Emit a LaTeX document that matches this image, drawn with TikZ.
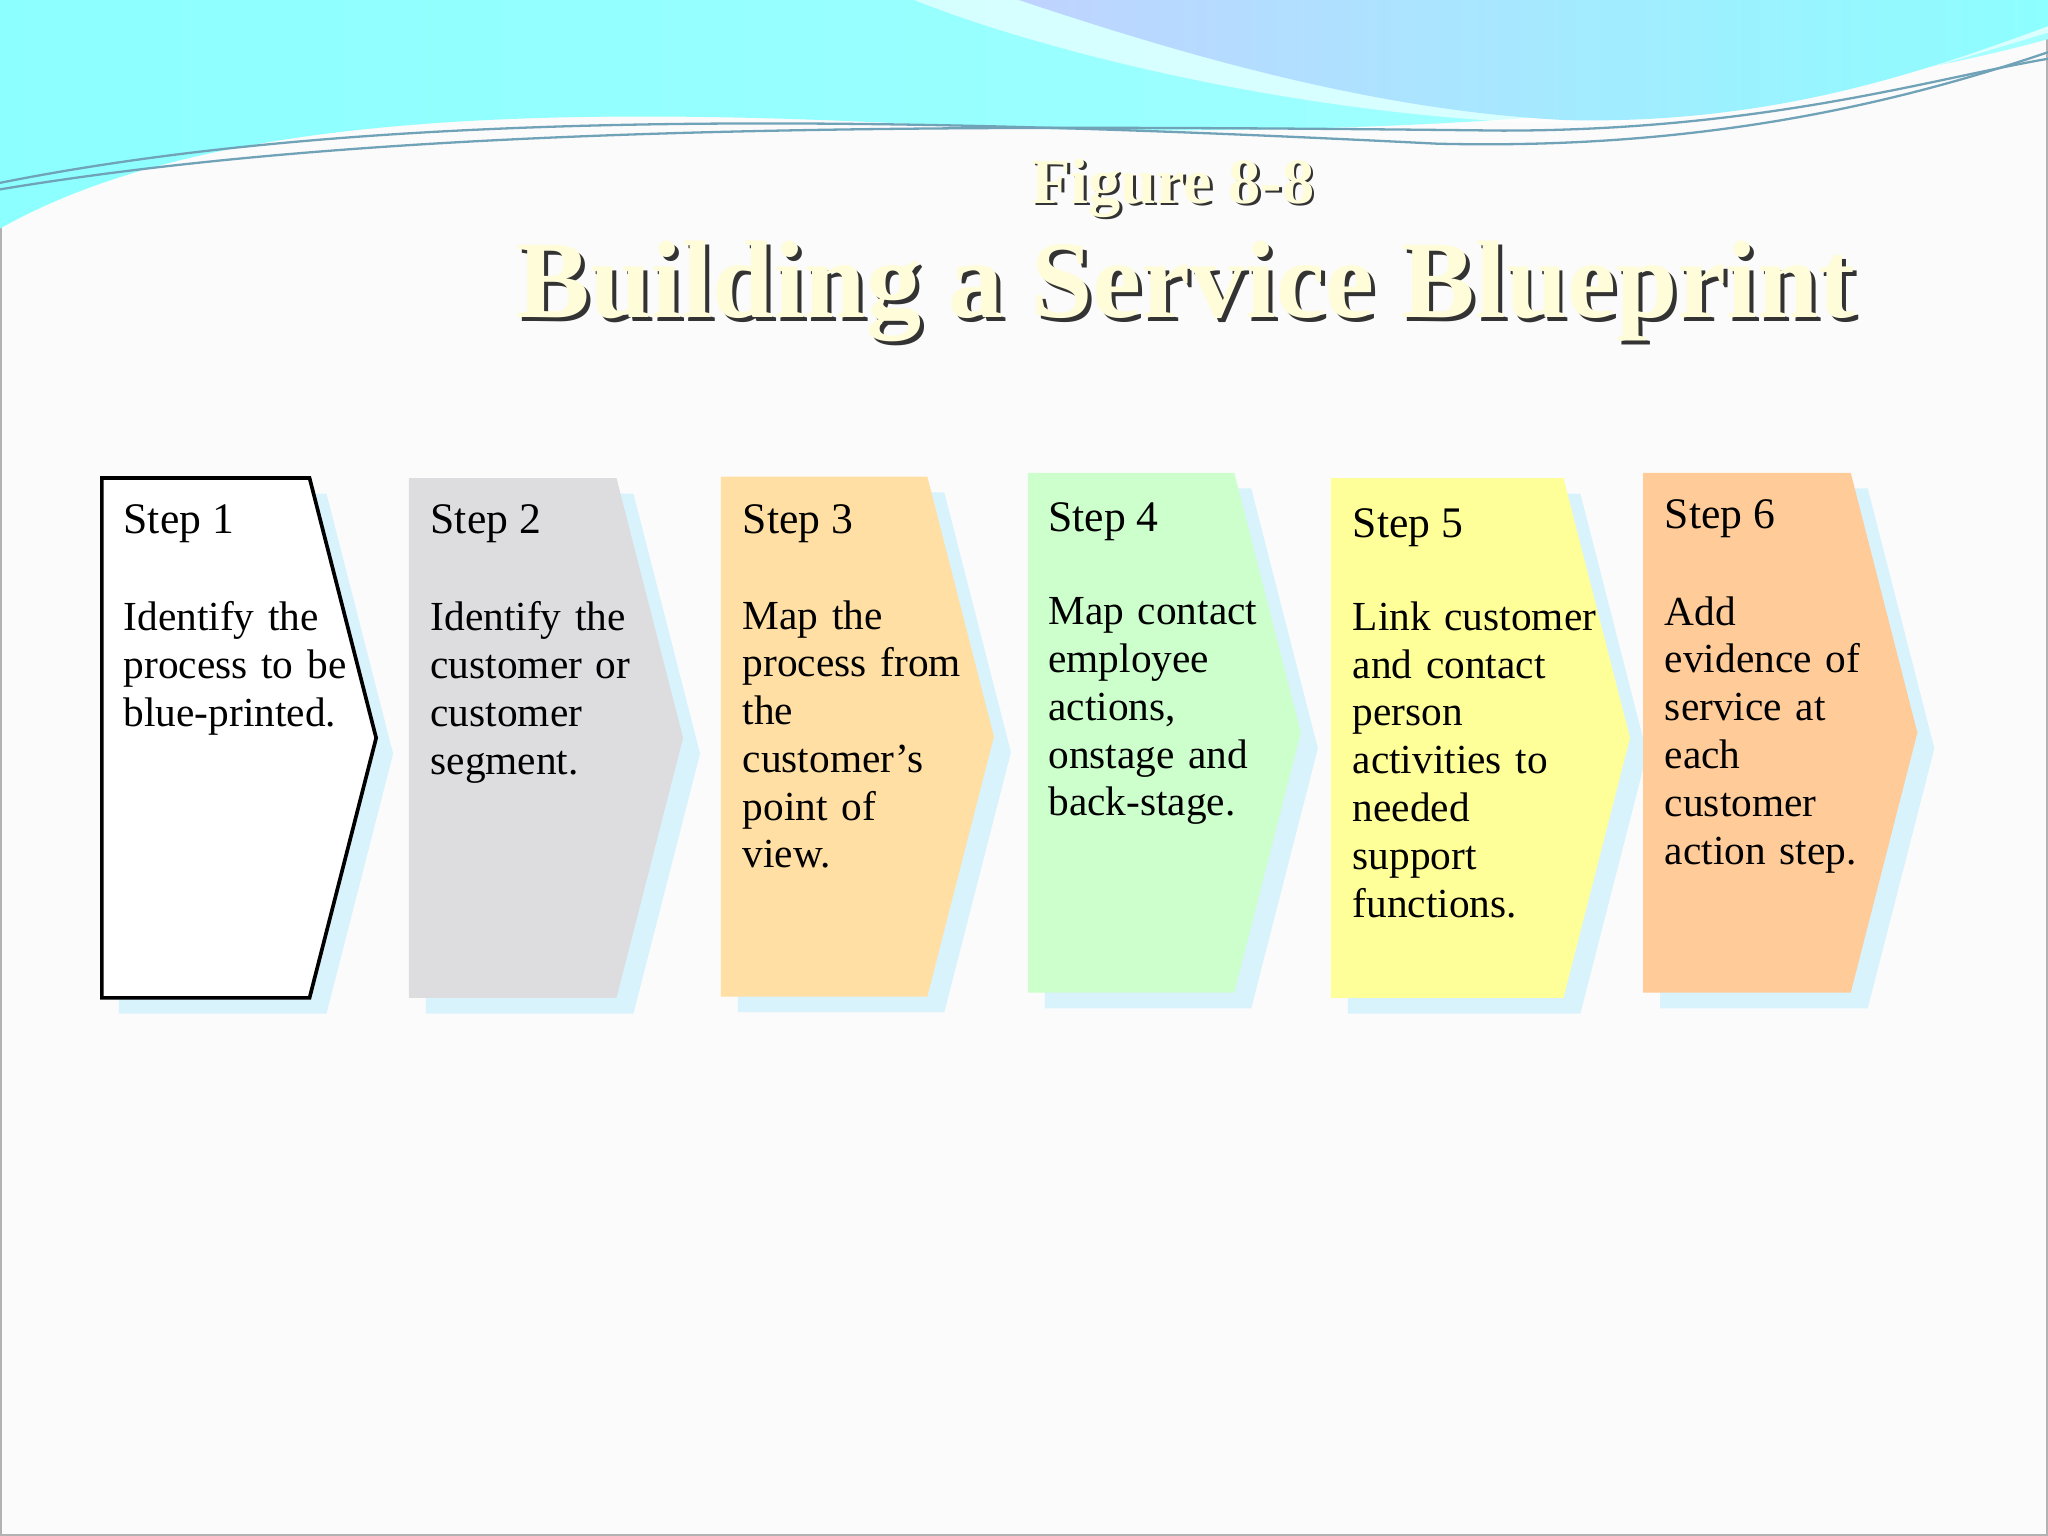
\documentclass[tikz,border=0pt]{standalone}
\usepackage{fontspec}
\setmainfont{Liberation Serif}
\definecolor{c3}{HTML}{FFDFA3}
\definecolor{c4}{HTML}{CCFFCC}
\definecolor{c5}{HTML}{FFFF99}
\definecolor{c6}{HTML}{FFCC99}
\definecolor{c2}{HTML}{DDDCDE}
\begin{document}
\begin{tikzpicture}[x=0.01cm,y=-0.01cm,
  shad/.style={fill=cyan!15},
  txt/.style={anchor=north west,align=left,inner sep=0pt,font=\fontsize{9}{10.4}\selectfont,text width=#1},
  hd/.style={anchor=north west,inner sep=0pt,font=\fontsize{9.5}{11}\selectfont}]
\useasboundingbox (0,0) rectangle (1568,1176);
\fill[gray!3] (0,0) rectangle (1568,1176);
\draw[gray!60,line width=0.6pt] (0.5,0.5) rectangle (1567.5,1175.5);
% waves
\shade[left color=cyan!45,right color=cyan!35] (0,0) -- (0,175) .. controls (150,90) and (400,80) .. (700,95) .. controls (1000,110) and (1350,90) .. (1568,30) -- (1568,0) -- cycle;
\fill[white,opacity=0.6] (700,0) .. controls (800,40) and (1000,90) .. (1200,95) .. controls (1350,95) and (1450,60) .. (1568,25) -- (1568,0) -- cycle;
\shade[left color=cyan!30!blue!25,right color=cyan!45] (780,0) .. controls (900,40) and (1050,85) .. (1200,92) .. controls (1350,95) and (1460,60) .. (1568,20) -- (1568,0) -- cycle;
\draw[cyan!40!gray,line width=0.5pt] (0,140) .. controls (300,80) and (700,90) .. (1100,110) .. controls (1300,115) and (1450,80) .. (1568,40);
\draw[cyan!40!gray,line width=0.5pt] (0,145) .. controls (300,95) and (700,95) .. (1150,100) .. controls (1350,100) and (1480,60) .. (1568,45);
% title
\node[text=black!80] at (900,146) {\fontsize{14}{16}\bfseries\selectfont Figure 8-8};
\node[text=black!80] at (911,226) {\fontsize{24}{28}\bfseries\selectfont Building a Service Blueprint};
\node[text=yellow!15] (title) at (908,223) {\fontsize{24}{28}\bfseries\selectfont Building a Service Blueprint};
\node[text=yellow!15] (fig) at (898,144) {\fontsize{14}{16}\bfseries\selectfont Figure 8-8};
% steps
\foreach \x/\t/\w/\c in {78/366/159/white,313/366/159/c2,552/365/158/c3,787/362/158/c4,1019/366/178/c5,1258/362/159/c6}{
  \fill[shad] (\x+13,\t+12) -- ++(\w,0) -- ++(51,199) -- ++(-51,199) -- ++(-\w,0) -- cycle;
  \fill[\c] (\x,\t) -- ++(\w,0) -- ++(51,199) -- ++(-51,199) -- ++(-\w,0) -- cycle;
}
\draw[black,line width=0.8pt] (78,366) -- (237,366) -- (288,565) -- (237,764) -- (78,764) -- cycle;
\node[hd] (h1) at (94,386) {Step 1};
\node[txt=180pt] (b1) at (94,460) {Identify the\\process to be\\blue-printed.};
\node[hd] (h2) at (329,386) {Step 2};
\node[txt=180pt] (b2) at (329,460) {Identify the\\customer or\\customer\\segment.};
\node[hd] (h3) at (568,386) {Step 3};
\node[txt=180pt] (b3) at (568,459) {Map the\\process from\\the\\customer’s\\point of\\view.};
\node[hd] (h4) at (802,384) {Step 4};
\node[txt=180pt] (b4) at (802,457) {Map contact\\employee\\actions,\\onstage and\\back-stage.};
\node[hd] (h5) at (1035,389) {Step 5};
\node[txt=180pt] (b5) at (1035,460) {Link customer\\and contact\\person\\activities to\\needed\\support\\functions.};
\node[hd] (h6) at (1274,382) {Step 6};
\node[txt=180pt] (b6) at (1274,456) {Add\\evidence of\\service at\\each\\customer\\action step.};
\end{tikzpicture}
\end{document}
